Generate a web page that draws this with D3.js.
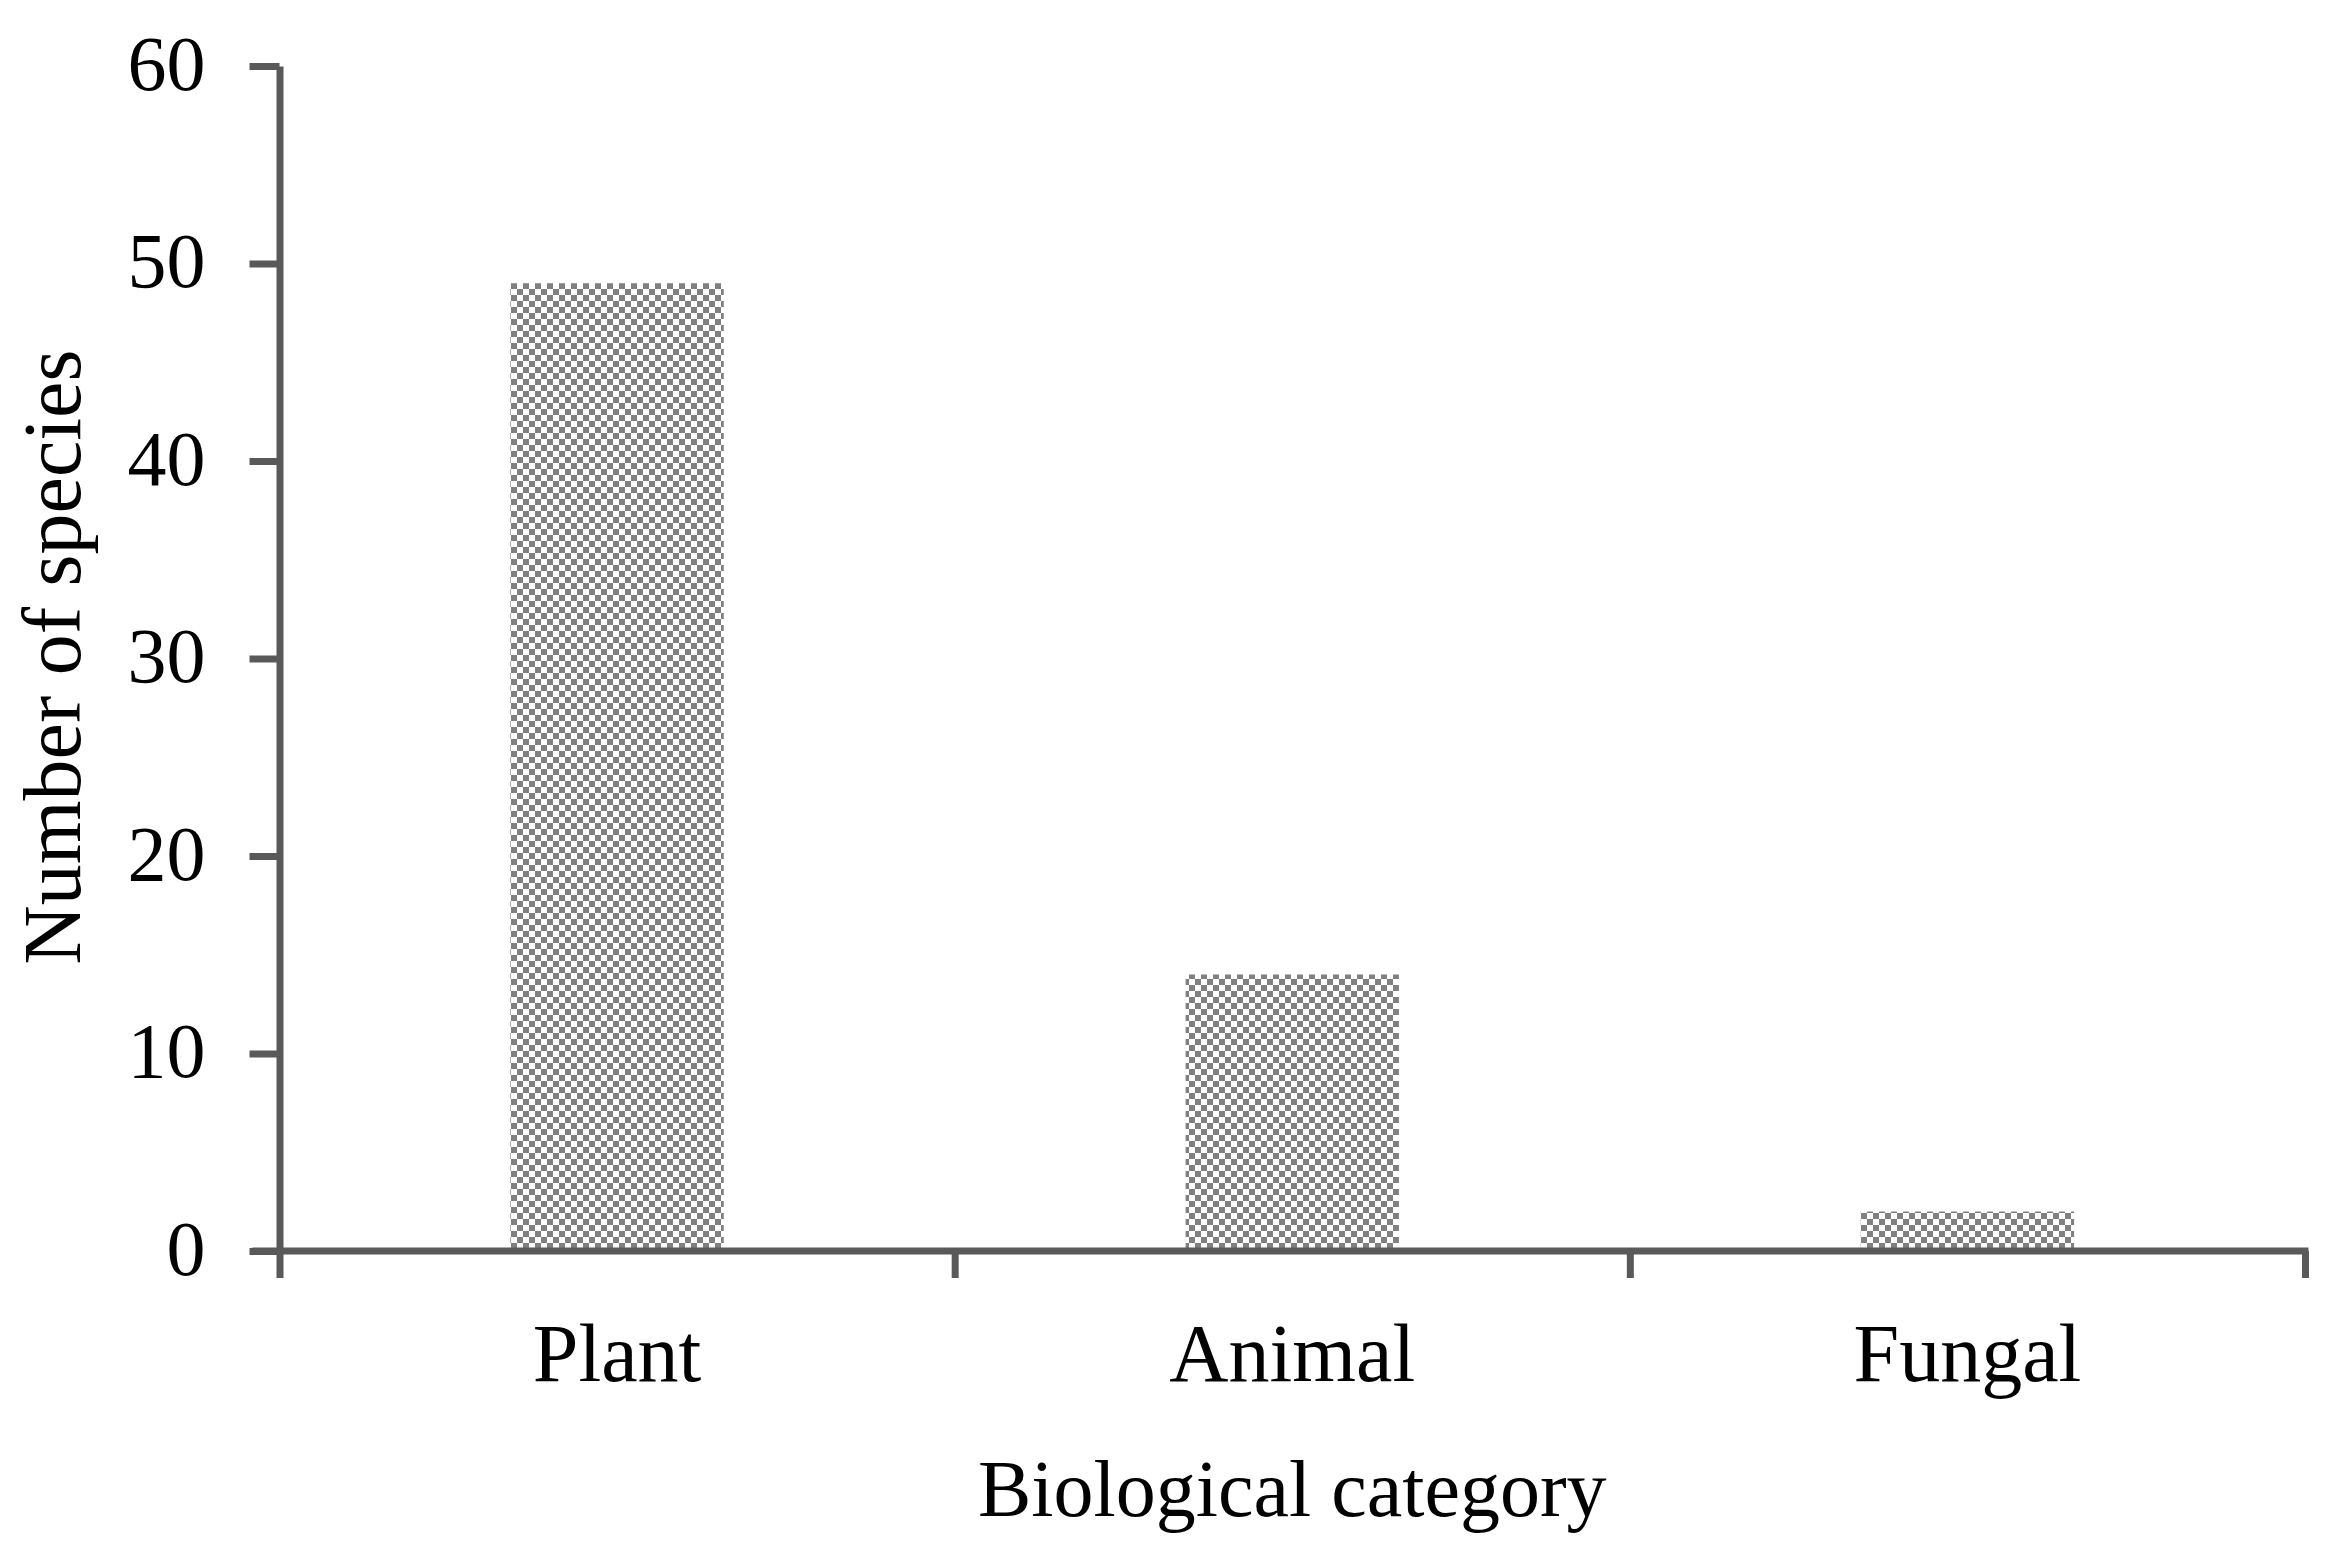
<!DOCTYPE html>
<html>
<head>
<meta charset="utf-8">
<script src="https://cdn.jsdelivr.net/npm/d3@7"></script>
<style>
  html, body { margin: 0; padding: 0; background: #fff; }
  svg { display: block; }
</style>
</head>
<body>
<script>
// ---- data ----
const categories = ["Plant", "Animal", "Fungal"];
const speciesCounts = [49, 14, 2];
const yTicks = [0, 10, 20, 30, 40, 50, 60];
const xTitle = "Biological category";
const yTitle = "Number of species";

// ---- layout ----
const W = 2330, H = 1551;
const plotL = 279.5, plotR = 2305, plotT = 66, plotB = 1251;
const fontFam = "'Liberation Serif', 'Times New Roman', serif";
const axisColor = "#595959";

const svg = d3.select("body").append("svg")
  .attr("width", W).attr("height", H);

// checker pattern
const defs = svg.append("defs");
const pat = defs.append("pattern")
  .attr("id", "checker")
  .attr("patternUnits", "userSpaceOnUse")
  .attr("x", 511).attr("y", 283)
  .attr("width", 12).attr("height", 12);
pat.append("rect").attr("width", 12).attr("height", 12).attr("fill", "#fff");
pat.append("rect").attr("x", 0).attr("y", 0).attr("width", 6).attr("height", 6).attr("fill", "#808080");
pat.append("rect").attr("x", 6).attr("y", 6).attr("width", 6).attr("height", 6).attr("fill", "#808080");

const y = d3.scaleLinear().domain([0, 60]).range([plotB, plotT]);
const x = d3.scaleBand().domain(categories).range([plotL, plotR]).padding(0);
const barFrac = 0.316;
const bw = x.bandwidth() * barFrac;

// bars
svg.append("g").selectAll("rect")
  .data(categories.map((c, i) => ({c, v: speciesCounts[i]})))
  .join("rect")
  .attr("x", d => x(d.c) + (x.bandwidth() - bw) / 2)
  .attr("width", bw)
  .attr("y", d => y(d.v))
  .attr("height", d => y(0) - y(d.v))
  .attr("fill", "url(#checker)");

// y axis
const yAxis = svg.append("g")
  .attr("transform", `translate(${plotL},0)`)
  .call(d3.axisLeft(y).tickValues(yTicks).tickSize(30).tickSizeOuter(0).tickPadding(44));
yAxis.select(".domain").attr("stroke", axisColor).attr("stroke-width", 7);
yAxis.selectAll(".tick line").attr("stroke", axisColor).attr("stroke-width", 7);
yAxis.selectAll(".tick text")
  .attr("font-family", fontFam).attr("font-size", 78).attr("fill", "#000")
  .attr("dy", "0.3em");

// x axis boundary ticks
const xb = d3.scaleLinear().domain([0, categories.length]).range([plotL, plotR]);
const xAxis = svg.append("g")
  .attr("transform", `translate(0,${plotB})`)
  .call(d3.axisBottom(xb).tickValues(d3.range(categories.length + 1)).tickFormat("").tickSize(27).tickSizeOuter(0));
xAxis.select(".domain").attr("stroke", axisColor).attr("stroke-width", 7)
  .attr("d", `M${plotL - 27},0H${plotR + 3.5}`);
xAxis.selectAll(".tick line").attr("stroke", axisColor).attr("stroke-width", 7);

// x category labels
const xLab = svg.append("g")
  .attr("transform", `translate(0,${plotB})`)
  .call(d3.axisBottom(x).tickSize(0).tickPadding(0));
xLab.select(".domain").remove();
xLab.selectAll(".tick text")
  .attr("font-family", fontFam).attr("font-size", 82).attr("fill", "#000")
  .attr("y", 130).attr("dy", 0);

// titles
svg.append("text")
  .attr("x", (plotL + plotR) / 2).attr("y", 1516)
  .attr("text-anchor", "middle")
  .attr("font-family", fontFam).attr("font-size", 80).attr("fill", "#000")
  .text(xTitle);

svg.append("text")
  .attr("transform", `translate(80,657) rotate(-90)`)
  .attr("text-anchor", "middle")
  .attr("font-family", fontFam).attr("font-size", 82).attr("fill", "#000")
  .text(yTitle);
</script>
</body>
</html>
